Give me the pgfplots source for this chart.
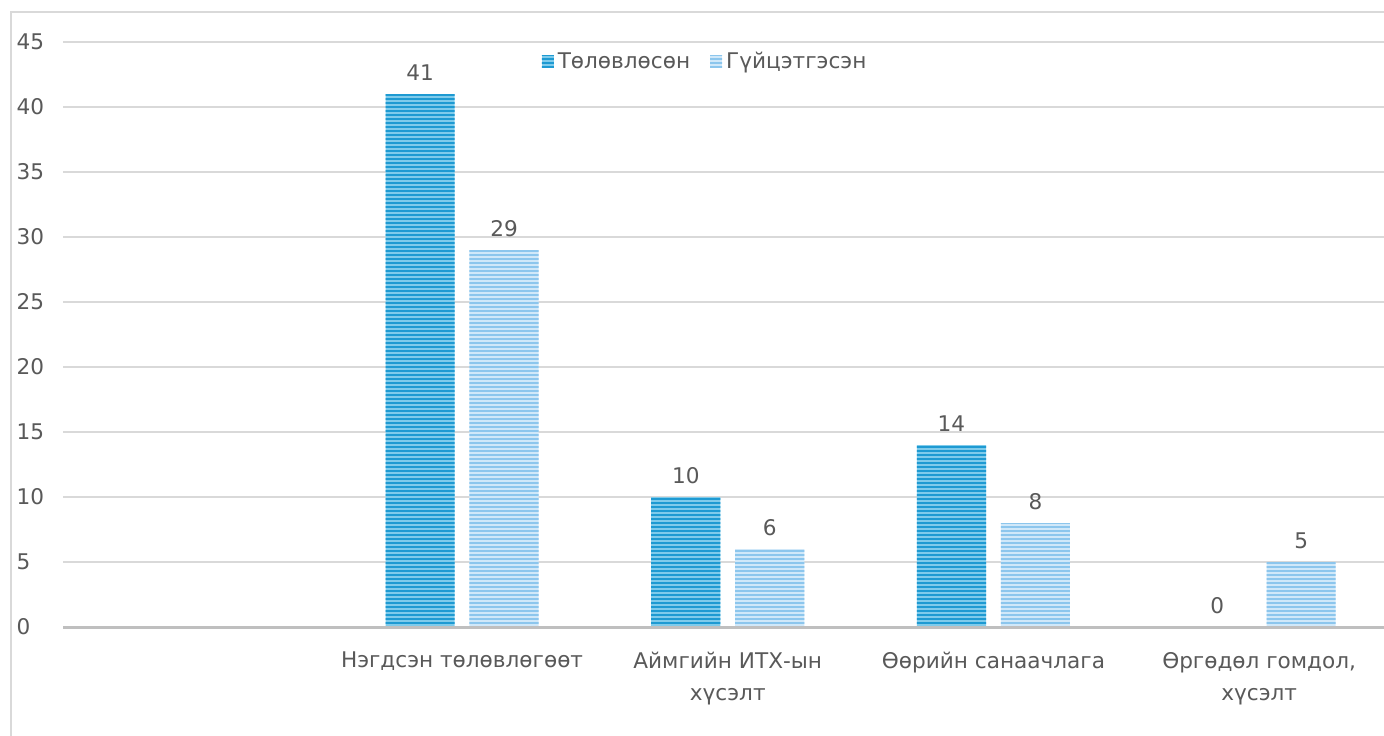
\documentclass[border=0pt]{standalone}
\usepackage{pgfplots}
\pgfplotsset{compat=1.18}
\usetikzlibrary{patterns.meta}
\usepackage{fontspec}
\setmainfont{DejaVu Sans}
\definecolor{txt}{HTML}{595959}
\definecolor{gridc}{HTML}{D9D9D9}
\definecolor{axl}{HTML}{BFBFBF}
\definecolor{darkbase}{HTML}{7FCBEB}
\definecolor{darkline}{HTML}{1E9AD2}
\definecolor{lightbase}{HTML}{D0E8F9}
\definecolor{lightline}{HTML}{8CC6ED}
\begin{document}
\begin{tikzpicture}
\useasboundingbox (-31.75pt,-54pt) rectangle (660.25pt,313.5pt);
\clip (-31.75pt,-54pt) rectangle (660.25pt,313.5pt);
\draw[gridc, line width=0.75pt] (-26.25pt,-80pt) -- (-26.25pt,307.5pt) -- (700pt,307.5pt);
\begin{axis}[
  at={(0,0)}, anchor=south west,
  scale only axis,
  width=660.25pt, height=292.5pt,
  xmin=-0.5, xmax=4.47,
  ymin=0, ymax=45,
  clip=false,
  ytick={0,5,...,45},
  xtick={1,2,3,4},
  xticklabels={{Нэгдсэн төлөвлөгөөт},{Аймгийн ИТХ-ын\\хүсэлт},{Өөрийн санаачлага},{Өргөдөл гомдол,\\хүсэлт}},
  xticklabel style={align=center, yshift=-9pt, font=\fontsize{10.8}{16}\selectfont, text=txt},
  yticklabel style={anchor=west, xshift=-27pt, font=\fontsize{10.8}{13}\selectfont, text=txt},
  /pgf/number format/assume math mode=true,
  major tick length=0pt,
  xtick style={draw=none},
  ytick style={draw=none},
  ymajorgrids,
  xmajorgrids=false,
  grid style={draw=gridc, line width=0.75pt},
  axis line style={draw=none},
  ybar,
  bar width=0.26,
  nodes near coords,
  every node near coord/.append style={font=\fontsize{10.8}{13}\selectfont, text=txt, yshift=3pt},
  legend columns=2,
  legend style={at={(0.4866,0.997)}, anchor=north, draw=none, fill=none,
    font=\fontsize{10.8}{13}\selectfont, text=txt,
    /tikz/every even column/.append style={column sep=8pt}},
  legend image code/.code={\fill[#1] (0pt,-3pt) rectangle (6pt,3pt);},
]
\addplot[bar shift=-0.158, fill=darkbase, draw=none,
  postaction={pattern={Lines[angle=0,distance=2pt,line width=1.2pt]}, pattern color=darkline}]
  coordinates {(1,41) (2,10) (3,14) (4,0)};
\addlegendentry{Төлөвлөсөн}
\addplot[bar shift=0.158, fill=lightbase, draw=none,
  postaction={pattern={Lines[angle=0,distance=2pt,line width=1.2pt]}, pattern color=lightline}]
  coordinates {(1,29) (2,6) (3,8) (4,5)};
\addlegendentry{Гүйцэтгэсэн}
\draw[axl, line width=1.5pt] (rel axis cs:0,0) -- (rel axis cs:1,0);
\end{axis}
\end{tikzpicture}
\end{document}
